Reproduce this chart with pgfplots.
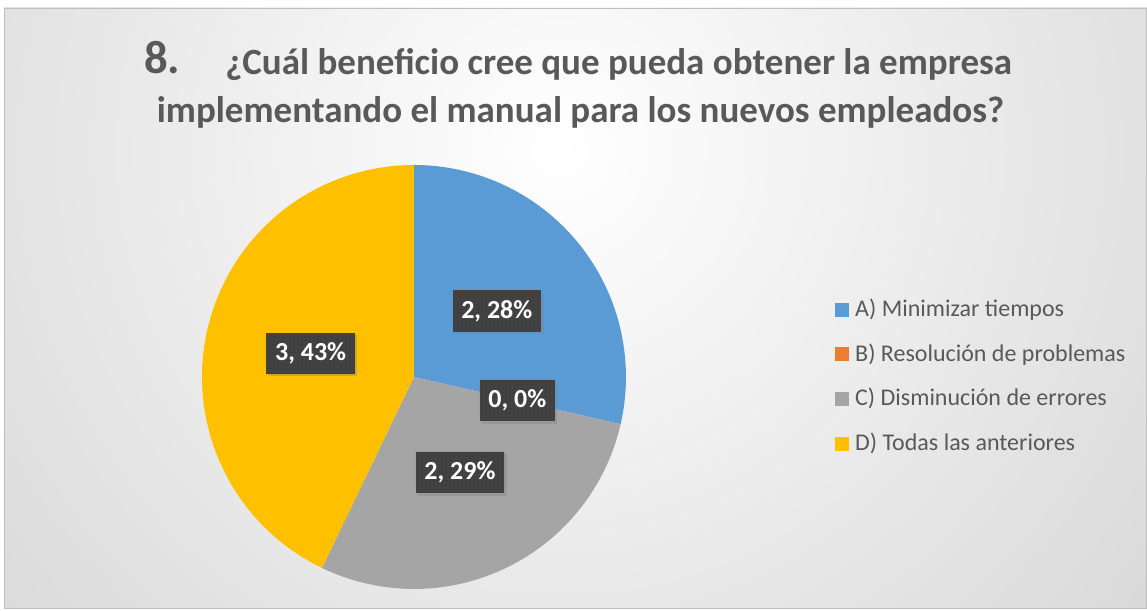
\documentclass[border=0pt]{standalone}
\usepackage{pgfplots}
\pgfplotsset{compat=1.18}
\usepackage{pgfplotstable}
\usepackage{fontspec}
\setmainfont{Carlito}
\usetikzlibrary{shadows,patterns}

\definecolor{cA}{HTML}{5B9BD5}
\definecolor{cB}{HTML}{ED7D31}
\definecolor{cC}{HTML}{A5A5A5}
\definecolor{cD}{HTML}{FFC000}
\definecolor{txt}{HTML}{595959}
\definecolor{lbl}{HTML}{404040}
\definecolor{lbldot}{HTML}{555555}
\definecolor{bgout}{HTML}{C6C6C6}
\definecolor{frame}{HTML}{BFBFBF}

% category, count, percentage shown in the data label
\pgfplotstableread[col sep=comma]{
key,count,pct
A,2,28
B,0,0
C,2,29
D,3,43
}\piedata

\begin{document}
\begin{tikzpicture}[x=0.75pt,y=0.75pt]
% ---- canvas and chart area background ----
\fill[white] (0,0) rectangle (1147,611);
\begin{scope}
  \clip (4,2) rectangle (1147,603);
  \shade[inner color=white, outer color=bgout] (560,461) circle (1130);
\end{scope}
\draw[frame, line width=0.75pt] (4.4,2.4) rectangle (1146.6,602.6);

% ---- title ----
\node[anchor=base west, text=txt, inner sep=0pt, font=\bfseries\fontsize{35}{36}\selectfont] at (144,537.5) {8.};
\node[anchor=base west, text=txt, inner sep=0pt, font=\bfseries\fontsize{27.75}{30}\selectfont] at (225,536) {¿Cuál beneficio cree que pueda obtener la empresa};
\node[anchor=base, text=txt, inner sep=0pt, font=\bfseries\fontsize{27.75}{30}\selectfont] at (580.5,488.5) {implementando el manual para los nuevos empleados?};

% ---- read the data ----
\pgfplotstablegetelem{0}{count}\of\piedata \let\nA\pgfplotsretval
\pgfplotstablegetelem{1}{count}\of\piedata \let\nB\pgfplotsretval
\pgfplotstablegetelem{2}{count}\of\piedata \let\nC\pgfplotsretval
\pgfplotstablegetelem{3}{count}\of\piedata \let\nD\pgfplotsretval
\pgfplotstablegetelem{0}{pct}\of\piedata \let\pA\pgfplotsretval
\pgfplotstablegetelem{1}{pct}\of\piedata \let\pB\pgfplotsretval
\pgfplotstablegetelem{2}{pct}\of\piedata \let\pC\pgfplotsretval
\pgfplotstablegetelem{3}{pct}\of\piedata \let\pD\pgfplotsretval
\pgfmathsetmacro\tot{\nA+\nB+\nC+\nD}
\pgfmathsetmacro\aA{90}
\pgfmathsetmacro\aB{\aA-360*\nA/\tot}
\pgfmathsetmacro\aC{\aB-360*\nB/\tot}
\pgfmathsetmacro\aD{\aC-360*\nC/\tot}
\pgfmathsetmacro\aE{\aD-360*\nD/\tot}
\pgfmathsetmacro\mA{(\aA+\aB)/2}
\pgfmathsetmacro\mB{(\aB+\aC)/2}
\pgfmathsetmacro\mC{(\aC+\aD)/2}
\pgfmathsetmacro\mD{(\aD+\aE)/2}

\tikzset{lblbox/.style={fill=lbl, text=white, inner xsep=6.6pt, minimum height=31pt,
   font=\bfseries\fontsize{19.5}{20}\selectfont,
   drop shadow={shadow xshift=1.8pt, shadow yshift=-1.8pt, opacity=0.35},
   postaction={pattern=dots, pattern color=lbldot}}}

\begin{axis}[at={(414,234)}, anchor=center,
  x=0.75pt, y=0.75pt,
  xmin=-212, xmax=212, ymin=-212, ymax=212,
  hide axis, clip=false]
  % slices (B has count 0 and draws no area)
  \addplot[fill=cA, draw=none, domain=\aB:\aA, samples=150, variable=\t]
     ({212*cos(\t)},{212*sin(\t)}) -- (axis cs:0,0) -- cycle;
  \addplot[fill=cC, draw=none, domain=\aD:\aC, samples=150, variable=\t]
     ({212*cos(\t)},{212*sin(\t)}) -- (axis cs:0,0) -- cycle;
  \addplot[fill=cD, draw=none, domain=\aE:\aD, samples=200, variable=\t]
     ({212*cos(\t)},{212*sin(\t)}) -- (axis cs:0,0) -- cycle;
  % data labels at half radius on each slice's mid angle
  \node[lblbox] at (axis cs:{106*cos(\mA)},{106*sin(\mA)}) {\nA, \pA\%};
  \node[lblbox] at (axis cs:{106*cos(\mB)},{106*sin(\mB)}) {\nB, \pB\%};
  \node[lblbox] at (axis cs:{106*cos(\mC)},{106*sin(\mC)}) {\nC, \pC\%};
  \node[lblbox] at (axis cs:{106*cos(\mD)},{106*sin(\mD)}) {\nD, \pD\%};
\end{axis}

% ---- legend ----
\begin{scope}[every node/.style={anchor=base west, inner sep=0pt, text=txt, font=\fontsize{18}{20}\selectfont}]
  \fill[cA] (835,294.3) rectangle (849,308.3);
  \node at (855,294.3) {A) Minimizar tiempos};
  \fill[cB] (835,249.6) rectangle (849,263.6);
  \node at (855,249.6) {B) Resolución de problemas};
  \fill[cC] (835,205) rectangle (849,219);
  \node at (855,205) {C) Disminución de errores};
  \fill[cD] (835,160.3) rectangle (849,174.3);
  \node at (855,160.3) {D) Todas las anteriores};
\end{scope}
\end{tikzpicture}
\end{document}
